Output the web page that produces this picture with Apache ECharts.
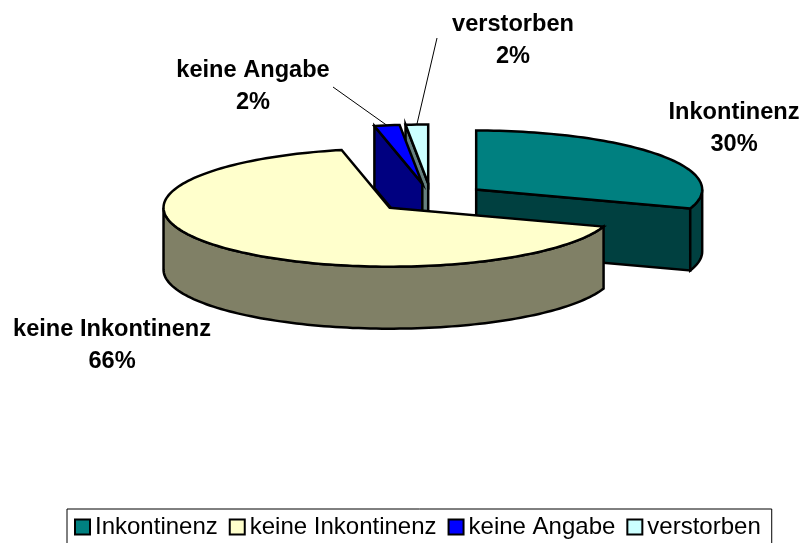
<!DOCTYPE html>
<html><head><meta charset="utf-8">
<style>html,body{margin:0;padding:0;background:#fff}#c{width:803px;height:543px}</style>
<script src="https://cdn.jsdelivr.net/npm/echarts@6/dist/echarts.min.js"></script>
</head><body><div id="c"></div>
<script>
const categories = ['Inkontinenz', 'keine Inkontinenz', 'keine Angabe', 'verstorben'];
const values = [30.2, 66.4, 1.8, 1.6];
const topColors = ['#008080', '#FFFFCC', '#0000FF', '#CCFFFF'];
const sideColors = ['#004040', '#808066', '#000080', '#668080'];
const paintOrder = [3, 2, 0, 1];
const labelCentres = [[734, 128], [112, 345], [253, 86], [513, 40]];
const leaderStarts = [null, null, [333, 87], [437, 38]];

const CX = 431, CY = 198, RX = 226, RY = 59, DEPTH = 62, EXPLODE = 55.6;
const total = values.reduce((a, b) => a + b, 0);
const rad = d => d * Math.PI / 180;
const ranges = [];
let acc = 0;
values.forEach(v => { ranges.push([acc, acc + v / total * 360]); acc += v / total * 360; });

function pt(c, a) { return [c[0] + RX * Math.sin(rad(a)), c[1] - RY * Math.cos(rad(a))]; }
function arc(c, a0, a1) {
  const pts = [], n = Math.max(2, Math.ceil((a1 - a0) / 1.5));
  for (let i = 0; i <= n; i++) pts.push(pt(c, a0 + (a1 - a0) * i / n));
  return pts;
}
const down = p => [p[0], p[1] + DEPTH];
function face(points, fill) {
  return { type: 'polygon', shape: { points }, style: { fill, stroke: '#000', lineWidth: 2.5, lineJoin: 'miter' } };
}
function renderSlice(idx) {
  return function () {
    const [a0, a1] = ranges[idx], mid = (a0 + a1) / 2;
    const c = [CX + EXPLODE * Math.sin(rad(mid)), CY - EXPLODE * RY / RX * Math.cos(rad(mid))];
    const children = [];
    const side = sideColors[idx];
    const cut = a => { const r = pt(c, a); return face([c, r, down(r), down(c)], side); };
    if (Math.sin(rad(a0)) < -1e-6) children.push(cut(a0));
    if (Math.sin(rad(a1)) > 1e-6) children.push(cut(a1));
    const s0 = Math.max(a0, 90), s1 = Math.min(a1, 270);
    if (s1 > s0) {
      const r = arc(c, s0, s1);
      children.push(face(r.concat(r.map(down).reverse()), side));
    }
    children.push(face([c].concat(arc(c, a0, a1)), topColors[idx]));
    const lc = labelCentres[idx];
    if (leaderStarts[idx]) {
      const e = pt(c, mid);
      children.push({ type: 'line', shape: { x1: leaderStarts[idx][0], y1: leaderStarts[idx][1], x2: e[0], y2: e[1] },
        style: { stroke: '#000', lineWidth: 1 } });
    }
    children.push({ type: 'text', style: {
      x: lc[0], y: lc[1], text: categories[idx] + '\n' + Math.round(values[idx]) + '%',
      align: 'center', verticalAlign: 'middle', fill: '#000',
      font: 'bold 23.6px "Liberation Sans", Arial, sans-serif', lineHeight: 32 } });
    return { type: 'group', children };
  };
}
const chart = echarts.init(document.getElementById('c'), null, { renderer: 'canvas' });
chart.setOption({
  animation: false,
  backgroundColor: '#fff',
  legend: {
    data: categories, left: 67, top: 509, orient: 'horizontal',
    padding: [6, 11, 6, 7], itemGap: 11, itemWidth: 15, itemHeight: 15,
    borderColor: '#000', borderWidth: 1, backgroundColor: '#fff', selectedMode: false,
    icon: 'rect',
    textStyle: { fontFamily: '"Liberation Sans", Arial, sans-serif', fontSize: 24, color: '#000' }
  },
  series: categories.map((name, i) => ({
    type: 'custom', name, coordinateSystem: 'none', silent: true,
    z: 2 + paintOrder.indexOf(i),
    itemStyle: { color: topColors[i], borderColor: '#000', borderWidth: 2 },
    data: [values[i]],
    renderItem: renderSlice(i)
  }))
});
</script></body></html>
